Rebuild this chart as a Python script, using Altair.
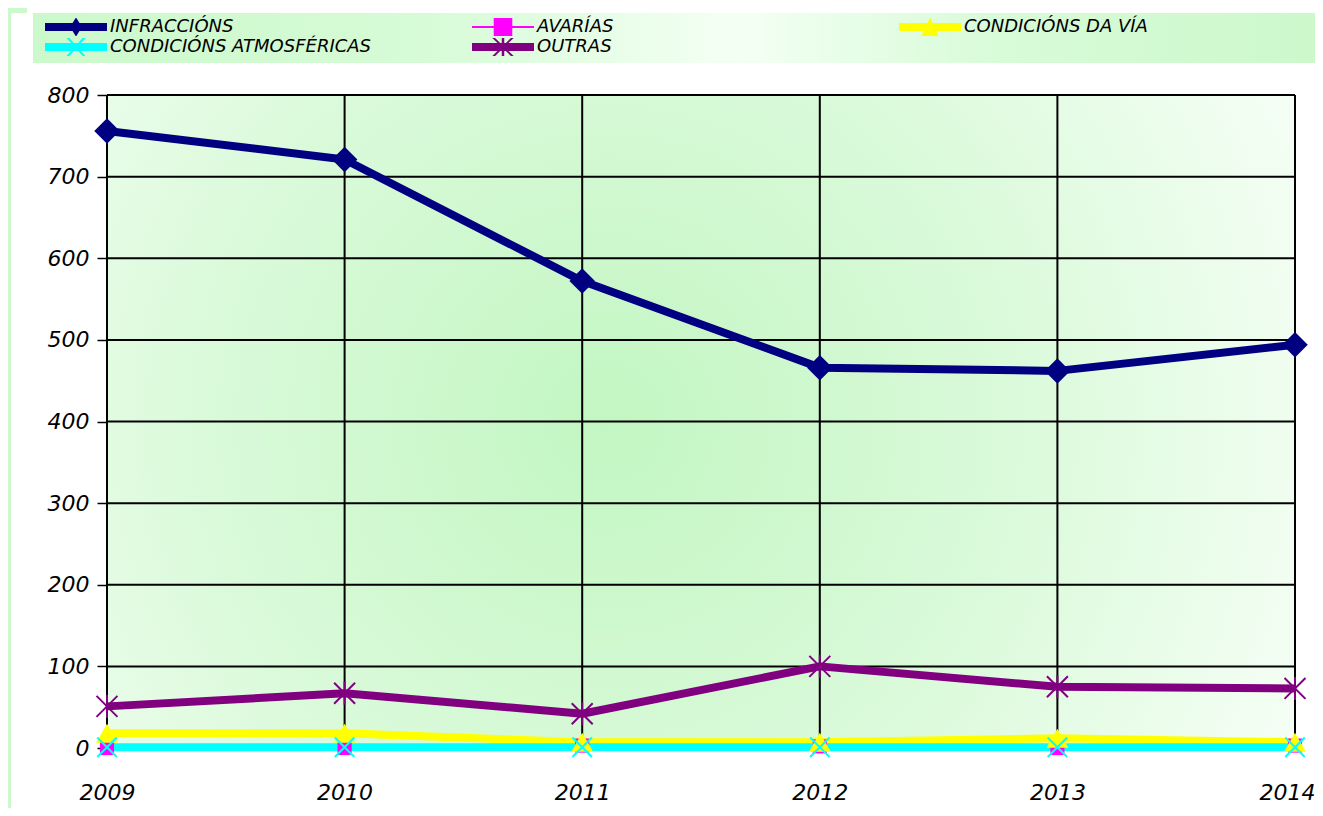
import altair as alt
import pandas as pd

# ---------------- data ----------------
years = ["2009", "2010", "2011", "2012", "2013", "2014"]
series_names = ["INFRACCIÓNS", "AVARÍAS", "CONDICIÓNS DA VÍA",
                "CONDICIÓNS ATMOSFÉRICAS", "OUTRAS"]
infraccions = [756, 721, 572, 466, 462, 494]
avarias = [0, 0, 3, 2, 0, 3]
condicions_via = [18, 18, 7, 7, 12, 7]
condicions_atmos = [1, 1, 1, 1, 1, 1]
outras = [51, 67, 42, 100, 75, 73]
y_ticks = [0, 100, 200, 300, 400, 500, 600, 700, 800]

# ---------------- styles ----------------
colors = ["#000080", "#FF00FF", "#FFFF00", "#00FFFF", "#800080"]
FONT = "DejaVu Sans"
W, H = 1188, 653

values = [infraccions, avarias, condicions_via, condicions_atmos, outras]
rows = []
for name, vals in zip(series_names, values):
    for yr, v in zip(years, vals):
        rows.append({"series": name, "year": yr, "value": v})
df = pd.DataFrame(rows)

X = alt.X("year:O", scale=alt.Scale(type="point", padding=0, domain=years),
          axis=alt.Axis(title=None, labelAngle=0, ticks=False, domain=False, grid=False,
                        labelFontSize=22, labelFont=FONT, labelFontStyle="italic",
                        labelColor="black", labelPadding=34,
                        labelOffset={"condition": {"test": "datum.value == '2014'", "value": -8},
                                     "value": 0}))
Y = alt.Y("value:Q", scale=alt.Scale(domain=[0, 800], nice=False, zero=True),
          axis=alt.Axis(title=None, values=y_ticks, grid=False, tickSize=10,
                        tickColor="black", tickWidth=1.5, domainColor="black",
                        domainWidth=1.5, labelFontSize=22, labelFont=FONT,
                        labelFontStyle="italic", labelColor="black", labelPadding=8))

one = pd.DataFrame({"a": [0]})

# background gradient of the plot area
bg = alt.Chart(one).mark_rect(
    fill=alt.RadialGradient(
        gradient="radial", x1=0.42, y1=0.5, r1=0, x2=0.42, y2=0.5, r2=0.7,
        stops=[alt.GradientStop(offset=0, color="#c2f6c2"),
               alt.GradientStop(offset=0.5, color="#dbfadb"),
               alt.GradientStop(offset=1, color="#fbfffb")])
).encode(x=alt.value(0), x2=alt.value(W), y=alt.value(0), y2=alt.value(H))

# legend box background
legbox = alt.Chart(one).mark_rect(
    fill=alt.LinearGradient(
        gradient="linear", x1=0, y1=0, x2=1, y2=0,
        stops=[alt.GradientStop(offset=0, color="#ccf9cc"),
               alt.GradientStop(offset=0.3, color="#d6fbd6"),
               alt.GradientStop(offset=0.55, color="#f4fff4"),
               alt.GradientStop(offset=0.75, color="#d8fbd8"),
               alt.GradientStop(offset=1, color="#ccf8cc")])
).encode(x=alt.value(-74), x2=alt.value(1208), y=alt.value(-82), y2=alt.value(-32))

# decorative light green frame pieces
frame_l = alt.Chart(one).mark_rect(color="#ccf8cc").encode(
    x=alt.value(-101), x2=alt.value(-96), y=alt.value(-87), y2=alt.value(720))
frame_t = alt.Chart(one).mark_rect(color="#ccf8cc").encode(
    x=alt.value(-101), x2=alt.value(-80), y=alt.value(-87), y2=alt.value(-82))

# grid lines
vgrid = alt.Chart(pd.DataFrame({"year": years})).mark_rule(
    color="black", strokeWidth=2).encode(x=X)
hgrid = alt.Chart(pd.DataFrame({"value": y_ticks})).mark_rule(
    color="black", strokeWidth=2).encode(y=Y)

base = alt.Chart(df)

X_SHAPE = "M-1,-1L1,1M1,-1L-1,1"
AST_SHAPE = "M-1,-1L1,1M1,-1L-1,1M0,-1.1L0,1.1"

marker_specs = [
    dict(shape="diamond", filled=True, size=650, strokeWidth=0),
    dict(shape="square", filled=True, size=200, strokeWidth=0),
    dict(shape="triangle-up", filled=True, size=480, strokeWidth=0),
    dict(shape=X_SHAPE, filled=False, size=380, strokeWidth=2),
    dict(shape=AST_SHAPE, filled=False, size=440, strokeWidth=2),
]
line_widths = [8, 2, 8, 8, 8]

layers = [bg, legbox, frame_l, frame_t, vgrid, hgrid]
# all lines first, then all markers
for name, col, lw in zip(series_names, colors, line_widths):
    sub = base.transform_filter(alt.datum.series == name)
    layers.append(sub.mark_line(color=col, strokeWidth=lw, strokeJoin="round",
                                strokeCap="butt").encode(x=X, y=Y))
for name, col, ms in zip(series_names, colors, marker_specs):
    sub = base.transform_filter(alt.datum.series == name)
    layers.append(sub.mark_point(color=col, opacity=1, **ms).encode(x=X, y=Y))

# legend symbol paths (line + marker), drawn in a -1..1 box
t = 0.13
line_thick = f"M-1,-{t}H1V{t}H-1Z"
line_thin = "M-1,-0.035H1V0.035H-1Z"
d = 0.045
def xpoly(a, b):
    return (f"M{-a-d},{-b}L{-a+d},{-b}L{a+d},{b}L{a-d},{b}Z"
            f"M{a-d},{-b}L{a+d},{-b}L{-a+d},{b}L{-a-d},{b}Z")
legend_paths = [
    line_thick + "M0,-0.31L0.19,0L0,0.31L-0.19,0Z",
    line_thin + "M-0.3,-0.3H0.3V0.3H-0.3Z",
    line_thick + "M0,-0.3L0.29,0.32L-0.29,0.32Z",
    line_thick + xpoly(0.26, 0.29),
    line_thick + xpoly(0.3, 0.29) + "M-0.04,-0.32H0.04V0.32H-0.04Z",
]

leg = alt.Legend(title=None, orient="none", legendX=-62, legendY=-77,
                 direction="horizontal",
                 columns=3, gridAlign="all", columnPadding=101, rowPadding=2,
                 symbolSize=3844, clipHeight=18, symbolStrokeWidth=0,
                 symbolOpacity=1, labelFont=FONT, labelFontSize=18,
                 labelFontStyle="italic", labelColor="black", labelOffset=3,
                 labelLimit=0, padding=0, symbolOffset=0)

legend_layer = base.transform_filter("false").mark_point(filled=True, opacity=1).encode(
    x=X, y=Y,
    color=alt.Color("series:N", scale=alt.Scale(domain=series_names, range=colors), legend=leg),
    shape=alt.Shape("series:N", scale=alt.Scale(domain=series_names, range=legend_paths), legend=leg),
)
layers.append(legend_layer)

chart = alt.layer(*layers).properties(
    width=W, height=H,
    autosize=alt.AutoSizeParams(type="none"),
    padding={"left": 99, "top": 87, "right": 20, "bottom": 60},
    background="white",
).configure_view(stroke=None)

chart.save("out.html", embed_options={"renderer": "svg", "actions": False})
